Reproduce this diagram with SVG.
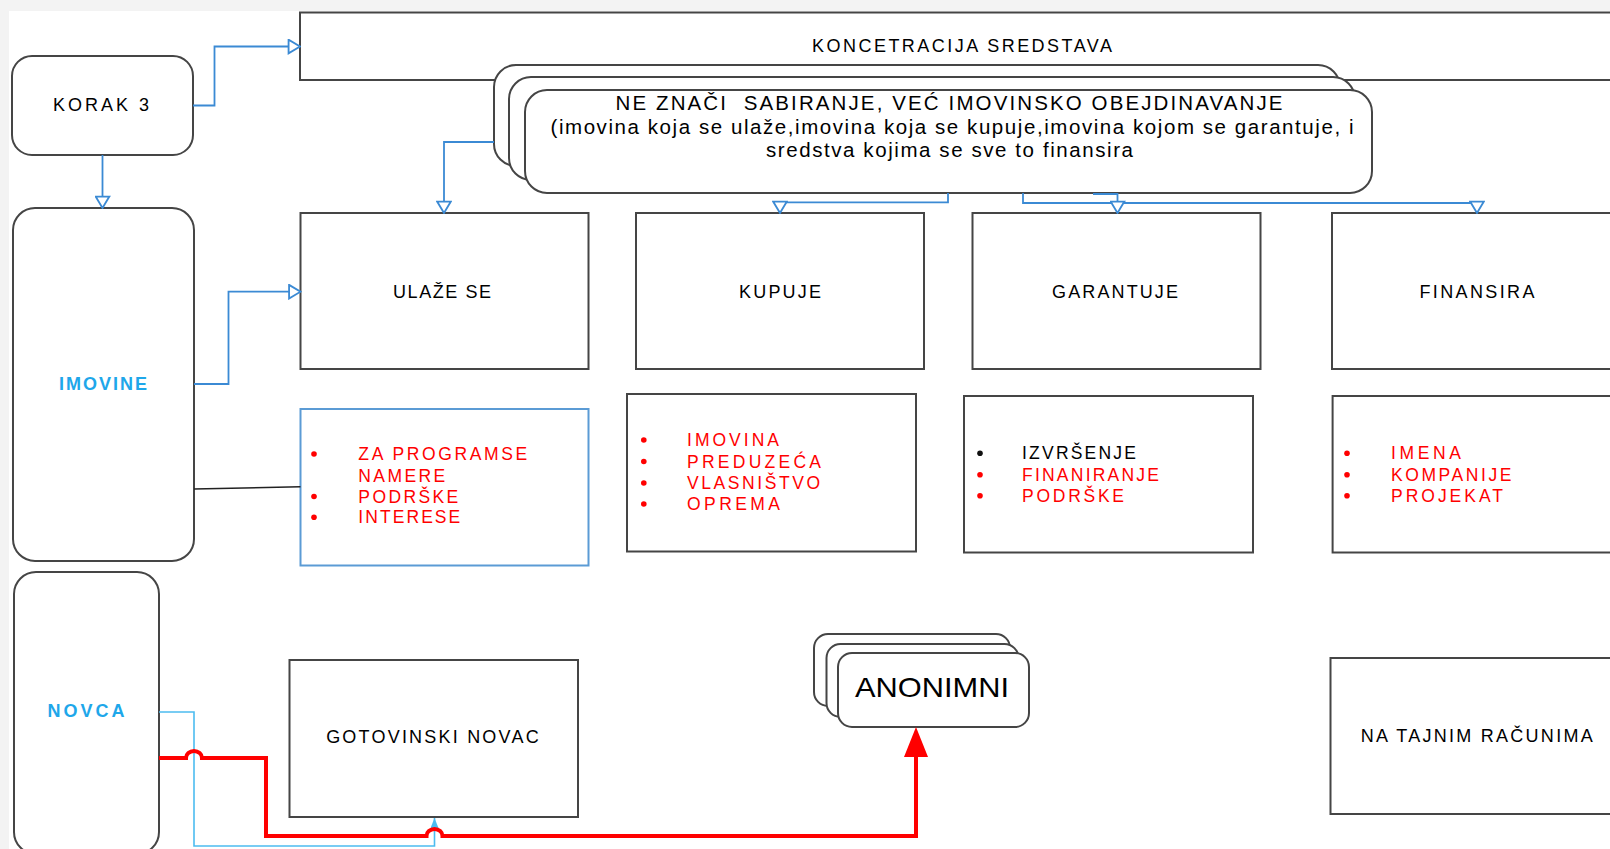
<svg xmlns="http://www.w3.org/2000/svg" width="1610" height="849" viewBox="0 0 1610 849">
  <defs>
    <style>
      .bx { fill: #ffffff; stroke: #454545; stroke-width: 2; }
      .t { font-family: 'Liberation Sans', Arial, sans-serif; fill: #000; }
      .lab { font-size: 18px; text-anchor: middle; }
      .it { font-size: 17.5px; }
      .red { fill: #ff0000; }
      .blk { fill: #111; }
      .bl { font-weight: bold; fill: #1ea7ea; }
      .big { font-size: 20.5px; text-anchor: middle; }
      .c { fill: none; stroke: #3b8ad4; stroke-width: 1.8; }
      .c2 { fill: none; stroke: #4cbcf0; stroke-width: 1.6; }
      .cr { fill: none; stroke: #ff0000; stroke-width: 4; }
      .ck { fill: none; stroke: #222; stroke-width: 1.5; }
    </style>
    <marker id="ao" markerUnits="userSpaceOnUse" markerWidth="14" markerHeight="16" viewBox="0 0 12 14" refX="11" refY="7" orient="auto">
      <path d="M1,1 L11,7 L1,13 z" fill="#ffffff" stroke="#3b8ad4" stroke-width="1.6"/>
    </marker>
    <marker id="af" markerUnits="userSpaceOnUse" markerWidth="10" markerHeight="8" viewBox="0 0 10 8" refX="10" refY="4" orient="auto">
      <path d="M0,0 L10,4 L0,8 z" fill="#4cbcf0"/>
    </marker>
    <marker id="ar" markerUnits="userSpaceOnUse" markerWidth="30" markerHeight="24" viewBox="0 0 30 24" refX="0" refY="12" orient="auto">
      <path d="M0,0 L30,12 L0,24 z" fill="#ff0000"/>
    </marker>
  </defs>

  <rect x="0" y="0" width="1610" height="849" fill="#f3f3f3"/>
  <rect x="9" y="11" width="1601" height="838" fill="#ffffff"/>

  <g id="koncetracija">
    <rect class="bx" x="300" y="12.5" width="1340" height="67.5"/>
    <text class="t lab" x="962" y="51.5" textLength="300" lengthAdjust="spacing">KONCETRACIJA SREDSTAVA</text>
  </g>

  <g id="korak3">
    <rect class="bx" x="12" y="56" width="181" height="99" rx="20"/>
    <text class="t lab" x="101" y="111" textLength="96" lengthAdjust="spacing">KORAK 3</text>
  </g>

  <g id="imovine">
    <rect class="bx" x="13" y="208" width="181" height="353" rx="22"/>
    <text class="t lab bl" x="103" y="390" textLength="88" lengthAdjust="spacing">IMOVINE</text>
  </g>

  <g id="novca">
    <rect class="bx" x="14" y="572" width="145" height="282" rx="22"/>
    <text class="t lab bl" x="86" y="717" textLength="77" lengthAdjust="spacing">NOVCA</text>
  </g>

  <g id="ne-znaci">
    <rect class="bx" x="494" y="65" width="846" height="101" rx="22"/>
    <rect class="bx" x="509" y="77" width="846" height="103" rx="22"/>
    <rect class="bx" x="525" y="90" width="847" height="103" rx="22"/>
    <text class="t big" x="949" y="110" textLength="667" lengthAdjust="spacing" xml:space="preserve">NE ZNAČI  SABIRANJE, VEĆ IMOVINSKO OBEJDINAVANJE</text>
    <text class="t big" x="952" y="134" textLength="803" lengthAdjust="spacing">(imovina koja se ulaže,imovina koja se kupuje,imovina kojom se garantuje, i</text>
    <text class="t big" x="949.5" y="157" textLength="367" lengthAdjust="spacing">sredstva kojima se sve to finansira</text>
  </g>

  <g id="ulaze-se">
    <rect class="bx" x="300.5" y="213" width="288" height="156"/>
    <text class="t lab" x="442" y="297.5" textLength="98" lengthAdjust="spacing">ULAŽE SE</text>
  </g>
  <g id="kupuje">
    <rect class="bx" x="636" y="213" width="288" height="156"/>
    <text class="t lab" x="780" y="297.5" textLength="82" lengthAdjust="spacing">KUPUJE</text>
  </g>
  <g id="garantuje">
    <rect class="bx" x="972.5" y="213" width="288" height="156"/>
    <text class="t lab" x="1115" y="297.5" textLength="126" lengthAdjust="spacing">GARANTUJE</text>
  </g>
  <g id="finansira">
    <rect class="bx" x="1332" y="213" width="290" height="156"/>
    <text class="t lab" x="1477" y="297.5" textLength="115" lengthAdjust="spacing">FINANSIRA</text>
  </g>

  <g id="lista-ulaze">
    <rect x="300.5" y="409" width="288" height="156.5" fill="#ffffff" stroke="#5b9bd5" stroke-width="2"/>
    <circle class="red" cx="314" cy="454" r="2.8"/>
    <circle class="red" cx="314" cy="496.5" r="2.8"/>
    <circle class="red" cx="314" cy="517.3" r="2.8"/>
    <text class="t it red" x="358.3" y="460" textLength="169" lengthAdjust="spacing">ZA PROGRAMSE</text>
    <text class="t it red" x="358.3" y="481.5" textLength="87" lengthAdjust="spacing">NAMERE</text>
    <text class="t it red" x="358.3" y="502.5" textLength="100" lengthAdjust="spacing">PODRŠKE</text>
    <text class="t it red" x="358.3" y="523.3" textLength="102" lengthAdjust="spacing">INTERESE</text>
  </g>

  <g id="lista-kupuje">
    <rect class="bx" x="627" y="394" width="289" height="157.5"/>
    <circle class="red" cx="643.8" cy="440" r="2.8"/>
    <circle class="red" cx="643.8" cy="461.5" r="2.8"/>
    <circle class="red" cx="643.8" cy="483" r="2.8"/>
    <circle class="red" cx="643.8" cy="504" r="2.8"/>
    <text class="t it red" x="687" y="446" textLength="92" lengthAdjust="spacing">IMOVINA</text>
    <text class="t it red" x="687" y="467.5" textLength="134" lengthAdjust="spacing">PREDUZEĆA</text>
    <text class="t it red" x="687" y="489" textLength="133" lengthAdjust="spacing">VLASNIŠTVO</text>
    <text class="t it red" x="687" y="510" textLength="93" lengthAdjust="spacing">OPREMA</text>
  </g>

  <g id="lista-garantuje">
    <rect class="bx" x="964" y="396" width="289" height="156.5"/>
    <circle class="blk" cx="980" cy="453.3" r="2.8"/>
    <circle class="red" cx="980" cy="474.7" r="2.8"/>
    <circle class="red" cx="980" cy="495.7" r="2.8"/>
    <text class="t it" x="1022" y="459.3" textLength="114" lengthAdjust="spacing">IZVRŠENJE</text>
    <text class="t it red" x="1022" y="480.7" textLength="137" lengthAdjust="spacing">FINANIRANJE</text>
    <text class="t it red" x="1022" y="501.7" textLength="102" lengthAdjust="spacing">PODRŠKE</text>
  </g>

  <g id="lista-finansira">
    <rect class="bx" x="1332.6" y="396" width="290" height="156.5"/>
    <circle class="red" cx="1347" cy="453.3" r="2.8"/>
    <circle class="red" cx="1347" cy="474.7" r="2.8"/>
    <circle class="red" cx="1347" cy="495.7" r="2.8"/>
    <text class="t it red" x="1391" y="459.3" textLength="70" lengthAdjust="spacing">IMENA</text>
    <text class="t it red" x="1391" y="480.7" textLength="120.5" lengthAdjust="spacing">KOMPANIJE</text>
    <text class="t it red" x="1391" y="501.7" textLength="112" lengthAdjust="spacing">PROJEKAT</text>
  </g>

  <g id="gotovinski-novac">
    <rect class="bx" x="289.5" y="660" width="288.5" height="157"/>
    <text class="t lab" x="432.4" y="743" textLength="212.5" lengthAdjust="spacing">GOTOVINSKI NOVAC</text>
  </g>

  <g id="anonimni">
    <rect class="bx" x="814" y="634" width="196" height="72" rx="14" stroke-width="1.5"/>
    <rect class="bx" x="826.5" y="644" width="192" height="73" rx="14" stroke-width="1.5"/>
    <rect class="bx" x="838" y="653" width="191" height="74" rx="14" stroke-width="1.5"/>
    <text class="t" x="932" y="697" font-size="28" text-anchor="middle" textLength="154" lengthAdjust="spacingAndGlyphs">ANONIMNI</text>
  </g>

  <g id="na-tajnim-racunima">
    <rect class="bx" x="1330.5" y="658" width="292" height="156"/>
    <text class="t lab" x="1476.7" y="742" textLength="232" lengthAdjust="spacing">NA TAJNIM RAČUNIMA</text>
  </g>

  <g id="connectors">
    <path class="c" d="M193,105.5 H214.5 V46.5 H300" marker-end="url(#ao)"/>
    <path class="c" d="M102.5,155 V208" marker-end="url(#ao)"/>
    <path class="c" d="M194,384 H228.5 V291.7 H300.5" marker-end="url(#ao)"/>
    <path class="ck" d="M194,489 L300.5,486.7"/>
    <path class="c" d="M494,142 H444 V213" marker-end="url(#ao)"/>
    <path class="c" d="M948,193 V202.3 H780 V213" marker-end="url(#ao)"/>
    <path class="c" d="M1023,193 V203 H1477 V213" marker-end="url(#ao)"/>
    <path class="c" d="M1093,194 H1117.5 V213" marker-end="url(#ao)"/>
    <path class="c2" d="M159,712 H194 V846 H434.5 V818" marker-end="url(#af)"/>
    <path class="cr" d="M159,758 H186 A8,7 0 0 1 202,758 H266 V836 H426.5 A8,7 0 0 1 442.5,836 H916 V757" marker-end="url(#ar)"/>
  </g>
</svg>
